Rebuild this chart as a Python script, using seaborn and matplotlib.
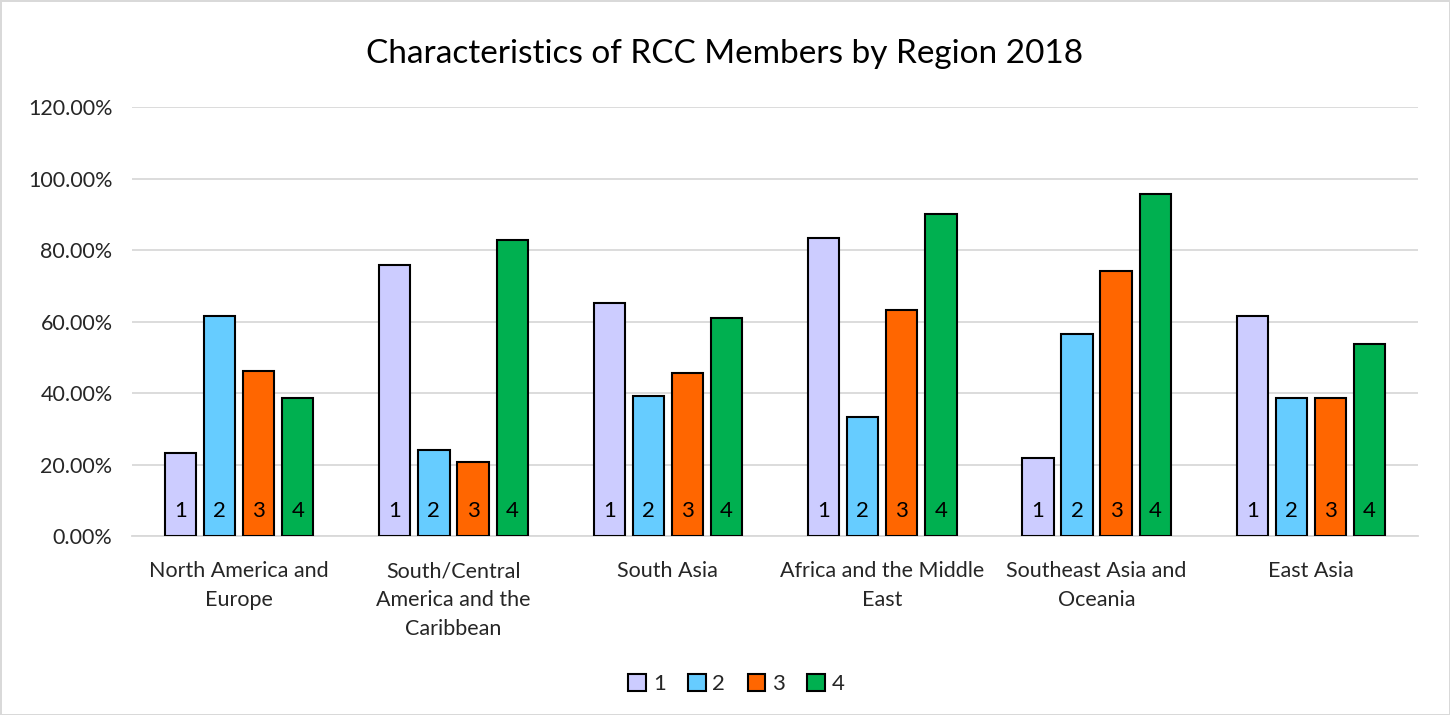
import numpy as np
import pandas as pd
import matplotlib.pyplot as plt
import seaborn as sns
from matplotlib.ticker import FuncFormatter, MultipleLocator

# Region categories and values per characteristic (fractions)
regions = ['North America and\nEurope', 'South/Central\nAmerica and the\nCaribbean', 'South Asia',
           'Africa and the Middle\nEast', 'Southeast Asia and\nOceania', 'East Asia']
series_names = ['1', '2', '3', '4']
char1 = [0.231, 0.759, 0.652, 0.834, 0.218, 0.615]
char2 = [0.615, 0.241, 0.391, 0.333, 0.565, 0.385]
char3 = [0.462, 0.207, 0.457, 0.632, 0.740, 0.385]
char4 = [0.385, 0.828, 0.609, 0.901, 0.957, 0.538]
colors = ['#CCCCFF', '#66CCFF', '#FF6600', '#00B050']

df = pd.DataFrame({
    'Region': regions * 4,
    'Series': [s for s in series_names for _ in regions],
    'Value': char1 + char2 + char3 + char4,
})

sns.set_style('white')
plt.rcParams['font.family'] = ['Lato', 'DejaVu Sans']

fig = plt.figure(figsize=(14.5, 7.15), dpi=100)
fig.patch.set_edgecolor('#D9D9D9')
fig.patch.set_linewidth(2)
ax = fig.add_axes([0.091, 0.2503, 0.887, 0.6])

sns.barplot(data=df, x='Region', y='Value', hue='Series', palette=colors, saturation=1,
            width=0.73, gap=0.2, edgecolor='black', linewidth=1.5, ax=ax, zorder=3)

# number labels at the bottom of each bar
for cont, name in zip(ax.containers, series_names):
    for bar in cont:
        ax.text(bar.get_x() + bar.get_width() / 2, 0.07, name, ha='center', va='center',
                fontsize=16, color='black', zorder=4)

ax.set_ylim(0, 1.2)
ax.yaxis.set_major_locator(MultipleLocator(0.2))
ax.yaxis.set_major_formatter(FuncFormatter(lambda v, p: f'{v * 100:.2f}%'))
ax.grid(axis='y', color='#D9D9D9', linewidth=1.3, zorder=0)
ax.set_axisbelow(True)
for s in ['top', 'right', 'left']:
    ax.spines[s].set_visible(False)
ax.spines['bottom'].set_color('#D9D9D9')
ax.spines['bottom'].set_linewidth(1.3)
ax.tick_params(axis='both', length=0, labelsize=15.5, colors='#262626')
ax.tick_params(axis='x', pad=18)
ax.tick_params(axis='y', pad=14)
for lbl in ax.get_xticklabels():
    lbl.set_linespacing(1.55)
    lbl.set_verticalalignment('top')
ax.set_xlabel('')
ax.set_ylabel('')

fig.suptitle('Characteristics of RCC Members by Region 2018', y=0.945, fontsize=24, color='black')

handles, labels = ax.get_legend_handles_labels()
ax.legend(handles, labels, loc='lower center', bbox_to_anchor=(0.47, -0.415), ncol=4,
          frameon=False, fontsize=16, handlelength=0.8, handleheight=0.8,
          handletextpad=0.3, columnspacing=1.0)

plt.savefig('out.png', dpi=100, edgecolor=fig.get_edgecolor())
